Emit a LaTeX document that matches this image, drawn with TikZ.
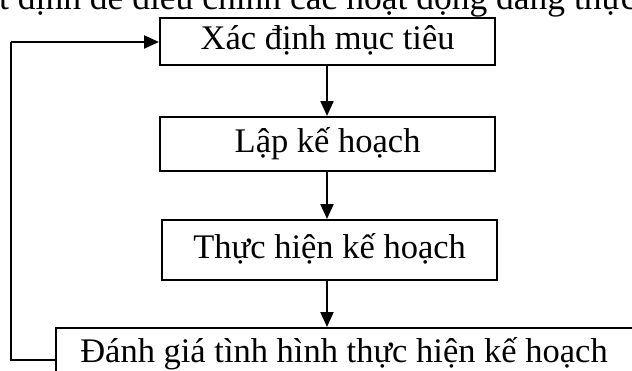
\documentclass[tikz,border=0pt]{standalone}
\usepackage{fontspec}
\setmainfont{Liberation Serif}
\usetikzlibrary{arrows.meta}
\begin{document}
\begin{tikzpicture}[x=1pt,y=-1pt,
  txt/.style={font=\fontsize{34.5}{36}\selectfont},
  box/.style={draw, line width=2.2pt, inner sep=0pt, txt,
              text height=24pt, text depth=8pt, anchor=north west},
  conn/.style={line width=2.2pt, -{Triangle[length=15pt,width=13pt]}},
  loopline/.style={line width=2.2pt}]
\useasboundingbox (0,0) rectangle (632,370);
\node[anchor=base west, inner sep=0pt, font=\fontsize{35.5}{37}\selectfont] (top) at (-1,9) {\llap{quyế}t định để điều chỉnh các hoạt động đang thực hiện};
\node[box, minimum width=335pt, minimum height=47pt] (b1) at (159,17) {Xác định mục tiêu};
\node[box, minimum width=335pt, minimum height=54pt] (b2) at (159,116) {Lập kế hoạch};
\node[box, minimum width=335pt, minimum height=60pt] (b3) at (161,219) {Thực hiện kế hoạch};
\node[draw, line width=2.2pt, inner sep=0pt, anchor=north west, minimum width=578pt, minimum height=70pt] (b4) at (55,327) {};
\node[anchor=base, inner sep=0pt, txt] (t4) at (344,362) {Đánh giá tình hình thực hiện kế hoạch};
\coordinate (c1) at (11,360);
\coordinate (c2) at (11,42);
\coordinate (e4) at (55,360);
\coordinate (e1) at (159,42);
\draw[conn] (b1.south -| 327,0) -- (b2.north -| 327,0);
\draw[conn] (b2.south -| 327,0) -- (b3.north -| 327,0);
\draw[conn] (b3.south -| 327,0) -- (b4.north -| 327,0);
\draw[loopline] (e4) -- (c1) -- (c2);
\draw[conn] (c2) -- (e1);
\end{tikzpicture}
\end{document}
